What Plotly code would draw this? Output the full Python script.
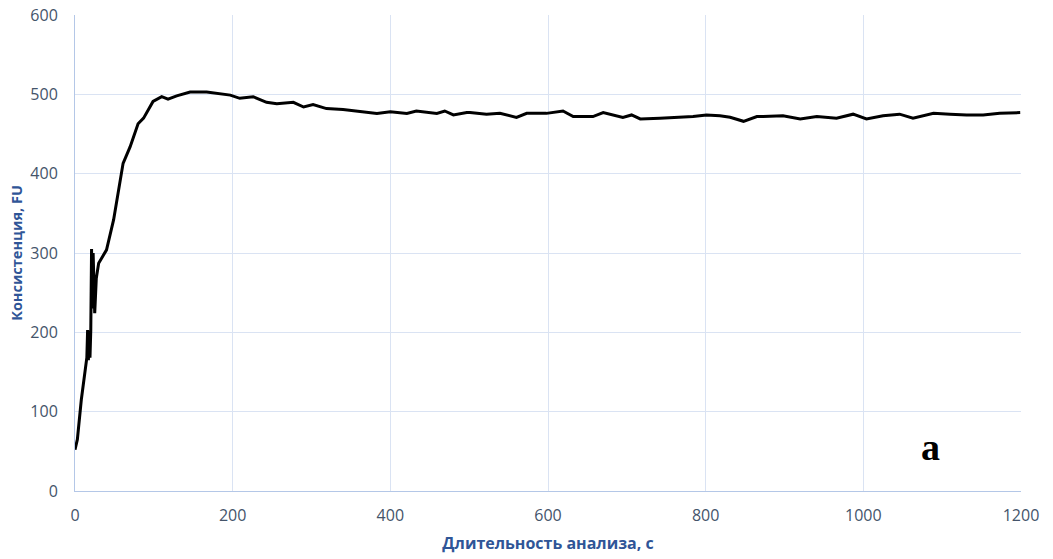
import plotly.graph_objects as go

time_s = [0, 3, 8, 12, 15, 16, 17, 18, 19, 20, 21, 22, 23, 25, 27, 30, 40, 49, 57, 61, 70, 80, 87, 99,
          110, 118, 129, 146, 167, 197, 209, 226, 243, 256, 277, 290, 302, 319, 340, 362, 383, 400,
          421, 433, 459, 469, 480, 497, 501, 522, 539, 560, 573, 598, 619, 632, 657, 670, 695, 706,
          717, 742, 759, 784, 801, 818, 831, 848, 865, 873, 898, 920, 941, 966, 987, 1004, 1025,
          1046, 1063, 1089, 1110, 1131, 1152, 1173, 1199]
consistency_fu = [52, 65, 115, 150, 168, 203, 165, 202, 168, 202, 305, 230, 300, 224, 268, 287, 304, 342, 392, 413, 434, 463, 470, 491,
                  497, 494, 498, 503, 503, 499, 495, 497, 490, 488, 490, 484, 487, 482, 481, 478, 476, 478,
                  476, 479, 476, 479, 474, 477, 477, 475, 476, 471, 476, 476, 479, 472, 472, 477, 471, 474,
                  469, 470, 471, 472, 474, 473, 471, 466, 472, 472, 473, 469, 472, 470, 475, 469, 473,
                  475, 470, 476, 475, 474, 474, 476, 477]

x_ticks = [0, 200, 400, 600, 800, 1000, 1200]
y_ticks = [0, 100, 200, 300, 400, 500, 600]

fig = go.Figure()
fig.add_trace(go.Scatter(x=time_s, y=consistency_fu, mode="lines",
                         line=dict(color="black", width=3), showlegend=False))

grid = "#DAE3F3"
tickfont = dict(family="Open Sans, Liberation Sans, sans-serif", size=16, color="#44546A")
xtitlefont = dict(family="Open Sans, Liberation Sans, sans-serif", size=16, color="#2F5597")
ytitlefont = dict(family="Open Sans, Liberation Sans, sans-serif", size=14.5, color="#2F5597")

fig.update_layout(
    width=1053, height=559,
    margin=dict(l=75, r=32, t=15, b=68),
    paper_bgcolor="white", plot_bgcolor="white",
    xaxis=dict(range=[0, 1200], tickvals=x_ticks, showgrid=True, gridcolor=grid, gridwidth=1,
               zeroline=False, showline=True, linecolor="#B4C7E7", linewidth=1,
               tickfont=tickfont, ticks="", ticklen=0, automargin=False, ticklabelstandoff=10,
               title=dict(text="<b>Длительность анализа, с</b>", font=xtitlefont, standoff=12)),
    yaxis=dict(range=[0, 600], tickvals=y_ticks, showgrid=True, gridcolor=grid, gridwidth=1,
               zeroline=False, showline=True, linecolor="#B4C7E7", linewidth=1,
               tickfont=tickfont, ticks="", ticklen=0, automargin=False, ticklabelstandoff=13,
               title=dict(text="<b>Консистенция, FU</b>", font=ytitlefont, standoff=4)),
)
fig.add_annotation(x=0.916, y=0.045, xref="paper", yref="paper", text="<b>a</b>", showarrow=False,
                   font=dict(family="Liberation Serif, serif", size=38, color="black"))

fig.write_html("out.html")
